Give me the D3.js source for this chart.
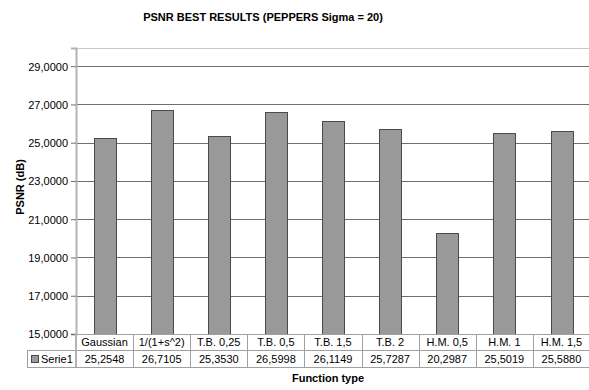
<!DOCTYPE html>
<html>
<head>
<meta charset="utf-8">
<script src="https://cdn.jsdelivr.net/npm/d3@7"></script>
<style>
  body { margin: 0; background: #fff; }
  svg text { font-family: "Liberation Sans", Arial, sans-serif; fill: #000; }
</style>
</head>
<body>
<svg id="chart" width="589" height="390"></svg>
<script>
// 数据
const categories = ["Gaussian", "1/(1+s^2)", "T.B. 0,25", "T.B. 0,5", "T.B. 1,5", "T.B. 2", "H.M. 0,5", "H.M. 1", "H.M. 1,5"];
const values = [25.2548, 26.7105, 25.3530, 26.5998, 26.1149, 25.7287, 20.2987, 25.5019, 25.5880];
const yTicks = [15, 17, 19, 21, 23, 25, 27, 29];
const seriesName = "Serie1";

const svg = d3.select("#chart");
const margin = { left: 76, right: -1, top: 48, bottom: 334 };

// 比例尺
const x = d3.scaleBand()
    .domain(categories)
    .range([margin.left, 589 - margin.right])
    .paddingInner(0).paddingOuter(0);

const y = d3.scaleLinear()
    .domain([15, 29.95])
    .range([margin.bottom, margin.top]);

const fmt = v => v.toFixed(4).replace(".", ",");

// 标题
svg.append("text")
    .attr("x", 263).attr("y", 21)
    .attr("text-anchor", "middle")
    .style("font-size", "11px").style("font-weight", "bold")
    .text("PSNR BEST RESULTS (PEPPERS Sigma = 20)");

// 绘图区上边框
svg.append("line")
    .attr("x1", margin.left).attr("x2", 589)
    .attr("y1", margin.top + 0.5).attr("y2", margin.top + 0.5)
    .attr("stroke", "#c8c8c8");

// 网格线
svg.append("g")
    .selectAll("line")
    .data(yTicks.slice(1))
    .enter().append("line")
    .attr("x1", margin.left).attr("x2", 589)
    .attr("y1", d => Math.round(y(d)) + 0.5)
    .attr("y2", d => Math.round(y(d)) + 0.5)
    .attr("stroke", "#6e6e6e");

// 柱
svg.append("g")
    .selectAll("rect")
    .data(values)
    .enter().append("rect")
    .attr("x", (d, i) => Math.round(x(categories[i]) + x.bandwidth() * 0.31) + 0.5)
    .attr("width", Math.round(x.bandwidth() * 0.38))
    .attr("y", d => Math.round(y(d)) + 0.5)
    .attr("height", d => Math.round(y(15)) - Math.round(y(d)))
    .attr("fill", "#999999")
    .attr("stroke", "#4a4a4a");

// Y 轴
const yAxis = d3.axisLeft(y)
    .tickValues(yTicks)
    .tickSize(5)
    .tickFormat(fmt);

const gy = svg.append("g")
    .attr("transform", `translate(${margin.left},0)`)
    .call(yAxis);
gy.select(".domain").attr("stroke", "#b4b4b4").attr("stroke-width", 2);
gy.selectAll(".tick line").attr("stroke", "#6e6e6e");
gy.selectAll(".tick text")
    .style("font-size", "11px")
    .attr("x", -8)
    .attr("dy", "0.35em");

// Y 轴标题
svg.append("text")
    .attr("transform", "translate(24,187) rotate(-90)")
    .attr("text-anchor", "middle")
    .style("font-size", "11px").style("font-weight", "bold")
    .text("PSNR (dB)");

// 数据表
const rowTop = margin.bottom, rowMid = 350, rowBot = 367;
const tableLeft = 27;
const table = svg.append("g").attr("stroke", "#a0a0a0").attr("fill", "none");

table.append("line")
    .attr("x1", margin.left).attr("x2", 589)
    .attr("y1", rowTop + 0.5).attr("y2", rowTop + 0.5);
table.append("line")
    .attr("x1", tableLeft).attr("x2", 589)
    .attr("y1", rowMid + 0.5).attr("y2", rowMid + 0.5);
table.append("line")
    .attr("x1", tableLeft).attr("x2", 589)
    .attr("y1", rowBot + 0.5).attr("y2", rowBot + 0.5);
table.append("line")
    .attr("x1", tableLeft + 0.5).attr("x2", tableLeft + 0.5)
    .attr("y1", rowMid).attr("y2", rowBot);
table.selectAll("line.sep")
    .data(categories.slice(1))
    .enter().append("line")
    .attr("class", "sep")
    .attr("x1", d => Math.round(x(d)) + 0.5)
    .attr("x2", d => Math.round(x(d)) + 0.5)
    .attr("y1", rowTop).attr("y2", rowBot);
table.append("line")
    .attr("x1", margin.left).attr("x2", margin.left)
    .attr("y1", rowTop).attr("y2", rowBot)
    .attr("stroke", "#b4b4b4").attr("stroke-width", 2);

svg.append("g")
    .selectAll("text")
    .data(categories)
    .enter().append("text")
    .attr("x", d => x(d) + x.bandwidth() / 2)
    .attr("y", rowTop + 12)
    .attr("text-anchor", "middle")
    .style("font-size", "11px")
    .text(d => d);

svg.append("g")
    .selectAll("text")
    .data(values)
    .enter().append("text")
    .attr("x", (d, i) => x(categories[i]) + x.bandwidth() / 2)
    .attr("y", rowMid + 13)
    .attr("text-anchor", "middle")
    .style("font-size", "11px")
    .text(d => fmt(d));

// 图例
svg.append("rect")
    .attr("x", 31.5).attr("y", rowMid + 5.5)
    .attr("width", 7).attr("height", 7)
    .attr("fill", "#999999").attr("stroke", "#4a4a4a");
svg.append("text")
    .attr("x", 41).attr("y", rowMid + 13)
    .style("font-size", "11px")
    .text(seriesName);

// X 轴标题
svg.append("text")
    .attr("x", 328).attr("y", 382)
    .attr("text-anchor", "middle")
    .style("font-size", "11px").style("font-weight", "bold")
    .text("Function type");
</script>
</body>
</html>
